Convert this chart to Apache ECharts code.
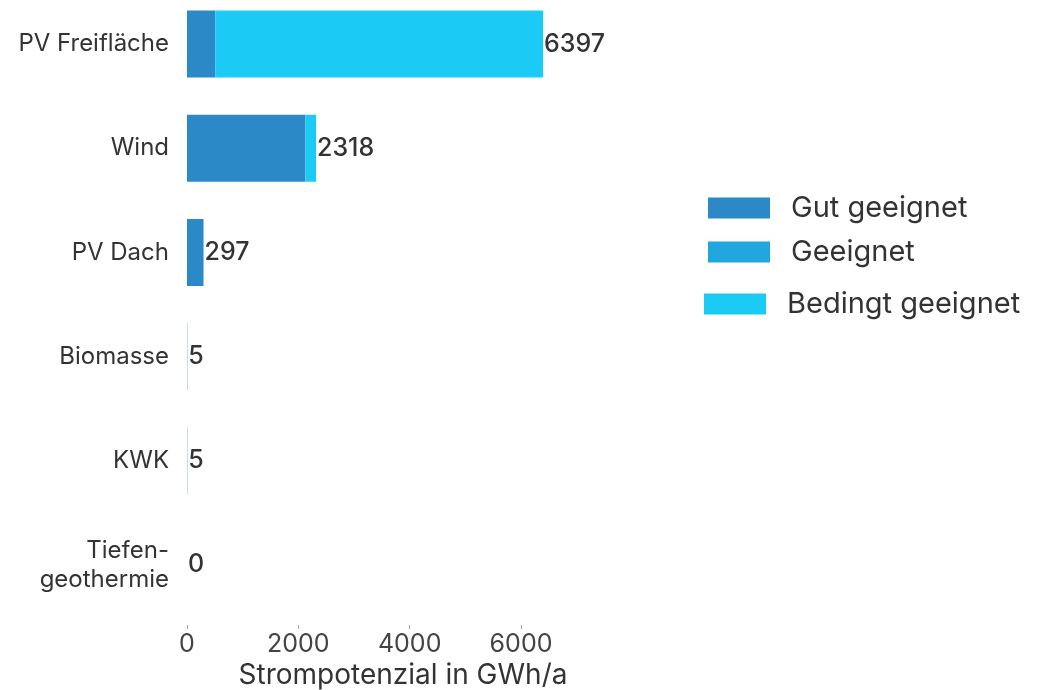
<!DOCTYPE html>
<html>
<head>
<meta charset="utf-8">
<script src="https://cdn.jsdelivr.net/npm/echarts@6/dist/echarts.min.js"></script>
<style>
  html, body { margin: 0; padding: 0; background: #fff; }
  #chart { width: 1037px; height: 690px; }
</style>
</head>
<body>
<div id="chart"></div>
<script>
// Daten
const categories = ['PV Freifläche', 'Wind', 'PV Dach', 'Biomasse', 'KWK', 'Tiefen-\ngeothermie'];
const gutGeeignet = [508, 2125, 297, 5, 5, 0];
const geeignet = [0, 0, 0, 0, 0, 0];
const bedingtGeeignet = [5889, 193, 0, 0, 0, 0];
const totals = [6397, 2318, 297, 5, 5, 0];
const xTicks = [0, 2000, 4000, 6000];

const FONT = 'Inter, "Noto Sans", sans-serif';
const chart = echarts.init(document.getElementById('chart'), null, { renderer: 'canvas' });

const legendText = { fontSize: 29, lineHeight: 30, color: '#333', fontFamily: FONT, padding: [0, 0, 0, 16] };

const option = {
  animation: false,
  textStyle: { fontFamily: FONT },
  grid: { left: 187, top: -8, width: 432, height: 625, outerBoundsMode: 'none', containLabel: false },
  legend: [
    { orient: 'vertical', left: 703, top: 188, icon: 'rect', itemWidth: 62, itemHeight: 21,
      data: ['Gut geeignet'], textStyle: legendText, selectedMode: false },
    { orient: 'vertical', left: 703, top: 232, icon: 'rect', itemWidth: 62, itemHeight: 21,
      data: ['Geeignet'], textStyle: legendText, selectedMode: false },
    { orient: 'vertical', left: 699, top: 284, icon: 'rect', itemWidth: 62, itemHeight: 21,
      data: ['Bedingt geeignet'], textStyle: legendText, selectedMode: false }
  ],
  xAxis: {
    type: 'value',
    min: 0,
    max: 7760,
    offset: 8,
    name: 'Strompotenzial in GWh/a',
    nameLocation: 'middle',
    nameGap: 33,
    nameTextStyle: { fontSize: 28, color: '#333' },
    axisLine: { show: false },
    axisTick: { show: true, length: 4, customValues: xTicks, lineStyle: { color: '#aaa' } },
    axisLabel: { fontSize: 25, color: '#444', margin: 7, customValues: xTicks, formatter: (v) => String(v) },
    splitLine: { show: false }
  },
  yAxis: {
    type: 'category',
    inverse: true,
    data: categories,
    axisLine: { show: false },
    axisTick: { show: false },
    axisLabel: { fontSize: 24, color: '#333', margin: 18, lineHeight: 29, align: 'right' }
  },
  series: [
    {
      name: 'Gut geeignet', type: 'bar', stack: 'total', barWidth: 67,
      itemStyle: { color: '#2a89c6' }, data: gutGeeignet
    },
    {
      name: 'Geeignet', type: 'bar', stack: 'total', barWidth: 67,
      itemStyle: { color: '#22a6de' }, data: geeignet
    },
    {
      name: 'Bedingt geeignet', type: 'bar', stack: 'total', barWidth: 67,
      itemStyle: { color: '#1ccbf5' }, data: bedingtGeeignet,
      label: {
        show: true, position: 'right', distance: 1,
        fontSize: 25, fontWeight: 500, color: '#333',
        formatter: (p) => String(totals[p.dataIndex])
      }
    }
  ]
};

chart.setOption(option);
</script>
</body>
</html>
